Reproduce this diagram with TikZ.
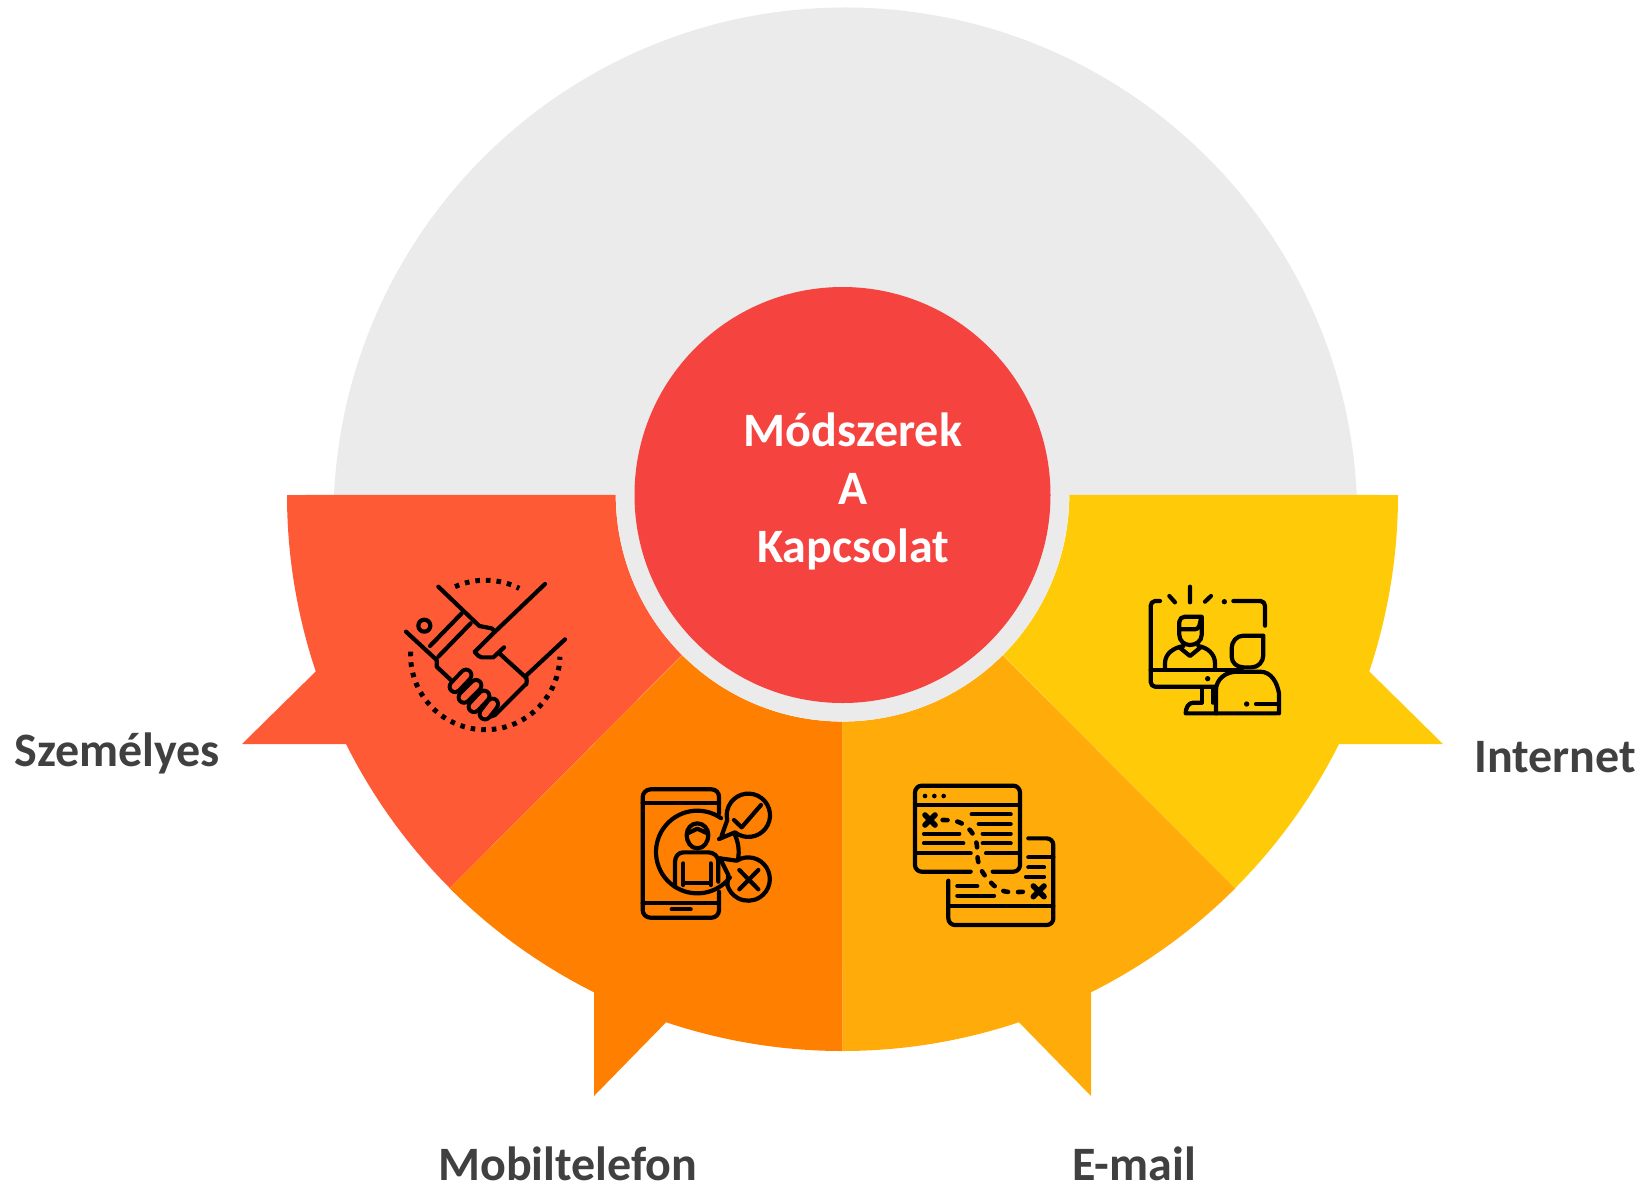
\documentclass[tikz,border=0pt]{standalone}
\usepackage{fontspec}
\setmainfont{Carlito}
\definecolor{cgray}{HTML}{EBEBEB}
\definecolor{cred}{HTML}{F54340}
\definecolor{chand}{HTML}{FF5A36}
\definecolor{cmob}{HTML}{FF7F00}
\definecolor{cmail}{HTML}{FFAC0A}
\definecolor{cweb}{HTML}{FFCB08}
\definecolor{ctxt}{HTML}{404040}
\tikzset{
 lab/.style={font=\bfseries\fontsize{24}{28}\selectfont,text=ctxt,inner sep=0pt},
 ctr/.style={font=\bfseries\fontsize{24}{29}\selectfont,text=white,align=center,inner sep=0pt},
 icon/.style={x=0.16667pt,y=-0.16667pt,line width=2.1pt,line cap=round,line join=round,draw=black},
 finger/.style={double=chand,double distance=3.4pt,line width=2pt},
}
\begin{document}
\begin{tikzpicture}[x=0.5pt,y=-0.5pt]
\useasboundingbox (0,0) rectangle (1645,1185);
% grey back
\fill[cgray] (334,495) arc[start angle=182.74,end angle=357.26,radius=512] -- cycle;
% wedges
\fill[chand] (287,495) arc[start angle=180,end angle=161.5,radius=556] -- (242,744) -- (346,744) arc[start angle=153.4,end angle=135,radius=556] -- (682,655) arc[start angle=135,end angle=180,radius=226.6] -- cycle;
\fill[cweb] (1398,495) arc[start angle=0,end angle=18.5,radius=556] -- (1443,744) -- (1339,744) arc[start angle=26.6,end angle=45,radius=556] -- (1003,655) arc[start angle=45,end angle=0,radius=226.6] -- cycle;
\fill[cmob] (842.5,1051) arc[start angle=90,end angle=108.5,radius=556] -- (594,1096) -- (594,992.3) arc[start angle=116.6,end angle=135,radius=556] -- (682.3,655.2) arc[start angle=135,end angle=90,radius=226.6] -- cycle;
\fill[cmail] (842.5,1051) arc[start angle=90,end angle=71.5,radius=556] -- (1091,1096) -- (1091,992.3) arc[start angle=63.4,end angle=45,radius=556] -- (1002.7,655.2) arc[start angle=45,end angle=90,radius=226.6] -- cycle;
% ring + centre
\fill[cgray] (616,495) arc[start angle=180,end angle=0,radius=226.5] -- cycle;
\node[circle,fill=cred,minimum size=208pt,inner sep=0pt] (core) at (842.5,495) {};
\node[ctr] (title) at (853,491) {Módszerek\\A\\Kapcsolat};
\node[lab,anchor=west] (a) at (14,753) {Személyes};
\node[lab,anchor=west] (b) at (438,1164) {Mobiltelefon};
\node[lab,anchor=west] (d) at (1072,1164) {E-mail};
\node[lab,anchor=west] (e) at (1474,757) {Internet};
% handshake
\begin{scope}[shift={(380,560)},icon]
\draw (175,80)--(298,198)--(335,205)--(345,215);
\draw (495,72)--(345,215)--(285,275) to[out=135,in=180] (305,292)--(340,292)--(372,262);
\draw (358,280)--(435,350) to[out=45,in=-45] (435,375)--(345,465)--(325,472);
\draw (555,238)--(435,350);
\draw (78,215)--(170,300)--(170,320)--(215,362);
\draw (245,160)--(150,258);
\draw (272,190)--(175,290);
\draw (133,197) circle[radius=18];
\draw[finger] (225,380)--(258,345);
\draw[finger] (252,412)--(288,376);
\draw[finger] (282,440)--(312,408);
\draw[finger] (315,462)--(338,432);
\draw[line cap=butt,line width=2.5pt,dash pattern=on 2.3pt off 3pt] (92,275) arc[start angle=182.6,end angle=1.3,radius=224];
\draw[line cap=butt,line width=2.5pt,dash pattern=on 2.3pt off 3pt] (225,80) arc[start angle=246,end angle=297,radius=224];
\end{scope}
% mobile
\begin{scope}[shift={(620,770)},icon]
\draw (297,130)--(297,80) to[out=90,in=0] (275,58)--(92,58) to[out=180,in=90] (68,82)--(68,420) to[out=-90,in=180] (92,443)--(275,443) to[out=0,in=-90] (297,420)--(297,365);
\draw (68,98)--(297,98);
\draw (68,400)--(297,400);
\draw (155,418)--(212,418);
\draw (232,246) ++(-55:124) arc[start angle=-55,end angle=-322,radius=124];
\draw (232,246) ++(-25:124) arc[start angle=-25,end angle=10,radius=124];
\draw (297,207)--(345,187) arc[start angle=128,end angle=-193,radius=65] -- (305,197);
\draw (342,150)--(365,172)--(423,105);
\draw (300,265)--(350,272) arc[start angle=-122,end angle=165,radius=65];
\draw (300,265)--(325,315)--(322,345);
\draw (358,300)--(415,358) (415,300)--(358,358);
\draw (200,195) to[out=90,in=180] (232,160) to[out=0,in=90] (265,195) to[out=-90,in=0] (232,235) to[out=180,in=-90] (200,195);
\draw (203,190) -- (232,176) -- (262,190);
\draw (165,350)--(165,275) to[out=90,in=180] (190,247)--(265,247) to[out=0,in=90] (295,275)--(295,335);
\draw (190,280)--(190,345) (272,280)--(272,345) (190,338)--(272,338);
\end{scope}
% email
\begin{scope}[shift={(900,770)},icon]
\draw (212,305)--(65,305) to[out=180,in=-90] (45,285)--(45,68) to[out=90,in=180] (65,47)--(340,47) to[out=0,in=90] (360,68)--(360,285) to[out=-90,in=0] (340,305)--(278,305);
\draw (45,105)--(360,105) (45,250)--(212,250) (258,250)--(360,250);
\fill (75,78) circle[radius=7] (103,78) circle[radius=7] (131,78) circle[radius=7];
\draw[line width=2.8pt] (75,135)--(105,165) (105,135)--(75,165);
\draw[line width=2.8pt] (400,348)--(432,380) (432,348)--(400,380);
\draw (215,133)--(332,133) (236,162)--(332,162) (72,191)--(178,191) (248,191)--(332,191) (72,220)--(190,220) (248,220)--(332,220);
\draw[line width=2.3pt,dash pattern=on 2.4pt off 5pt] (128,150) to[out=0,in=135] (205,175) to[out=-45,in=90] (232,250) to[out=-90,in=135] (280,345) to[out=-45,in=180] (385,365);
\draw (385,205)--(440,205) to[out=0,in=90] (460,225)--(460,445) to[out=-90,in=0] (440,465)--(165,465) to[out=180,in=-90] (145,445)--(145,332);
\draw (145,408)--(460,408) (385,262)--(460,262) (385,292)--(432,292) (378,320)--(432,320);
\draw (172,348)--(232,348) (172,377)--(282,377);
\end{scope}
% internet
\begin{scope}[shift={(1130,570)},icon]
\draw (90,93)--(75,93) to[out=180,in=90] (62,108)--(62,335) to[out=-90,in=180] (75,350)--(258,350);
\draw (310,93)--(392,93) to[out=0,in=90] (405,108)--(405,167);
\draw (180,50)--(180,97) (118,78)--(135,97) (243,78)--(225,95);
\fill (283,95) circle[radius=8] (233,326) circle[radius=8] (350,402) circle[radius=8];
\draw (105,297)--(105,280) to[out=90,in=190] (160,228) (255,297)--(255,280) to[out=90,in=-10] (205,228);
\draw (148,232)--(180,258)--(212,232);
\draw (148,155)--(148,195) to[out=-90,in=180] (180,225) to[out=0,in=-90] (215,195)--(215,140)--(165,140) to[out=180,in=90] (148,155);
\draw (148,178)--(195,178) to[out=0,in=-105] (213,145);
\draw (62,300)--(335,300);
\draw (215,355)--(215,398) (248,355)--(248,398);
\draw (215,398)--(190,398) to[out=180,in=90] (167,430)--(440,430);
\draw (258,430)--(258,360) to[out=90,in=180] (320,305)--(390,305) to[out=0,in=100] (447,370)--(447,430);
\draw (378,402)--(447,402);
\draw (400,197)--(340,197) to[out=180,in=90] (305,235)--(305,260) to[out=-90,in=180] (340,292)--(365,292) to[out=0,in=-90] (400,255)--(400,197);
\end{scope}
\end{tikzpicture}
\end{document}
